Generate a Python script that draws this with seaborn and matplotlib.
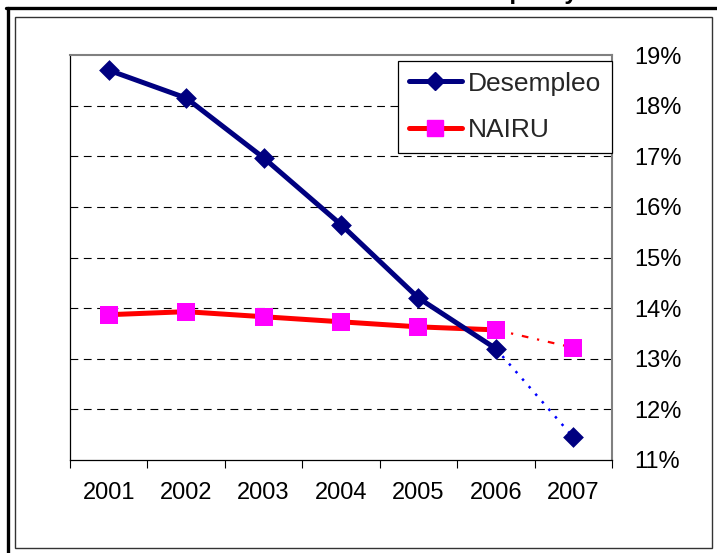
import matplotlib
matplotlib.use("Agg")
import matplotlib.pyplot as plt
import seaborn as sns
import pandas as pd
from matplotlib.lines import Line2D
from matplotlib.patches import Rectangle
from matplotlib.ticker import FixedLocator, FuncFormatter

# ---- data ----
years = ["2001", "2002", "2003", "2004", "2005", "2006", "2007"]
desempleo = [18.70, 18.15, 16.97, 15.65, 14.20, 13.20, 11.45]
nairu = [13.87, 13.93, 13.83, 13.73, 13.63, 13.57, 13.22]
y_ticks = [11, 12, 13, 14, 15, 16, 17, 18, 19]
title = "Evolución de la Tasa de Desempleo y NAIRU"

NAVY = "#000080"
BLUE = "#0000FF"
RED = "#FF0000"
MAGENTA = "#FF00FF"

sns.set_theme(style="white")
plt.rcParams["font.family"] = ["Liberation Sans", "DejaVu Sans"]

W, H = 717, 553
fig = plt.figure(figsize=(W / 100, H / 100), dpi=100)
fig.patch.set_facecolor("white")

ax = fig.add_axes([70 / W, 1 - 460 / H, 542 / W, 405 / H])

df = pd.DataFrame({"idx": range(len(years)), "year": years,
                   "Desempleo": desempleo, "NAIRU": nairu})
observed = df.iloc[:6]
forecast = df.iloc[5:]

# dashed horizontal gridlines
for t in y_ticks[1:-1]:
    ax.axhline(t, color="black", lw=0.8, ls=(0, (7, 5)), zorder=0.5)

# forecast segments (dotted)
sns.lineplot(data=forecast, x="idx", y="Desempleo", ax=ax, color=BLUE,
             lw=1.8, linestyle=(0, (1, 3)), zorder=2)
sns.lineplot(data=forecast, x="idx", y="NAIRU", ax=ax, color=RED,
             lw=1.6, linestyle=(0, (3, 4, 1, 4)), zorder=2)

# observed segments (solid)
sns.lineplot(data=observed, x="idx", y="NAIRU", ax=ax, color=RED,
             lw=3.6, zorder=3)
sns.lineplot(data=observed, x="idx", y="Desempleo", ax=ax, color=NAVY,
             lw=3.6, zorder=4)

# markers
sns.scatterplot(data=df, x="idx", y="NAIRU", ax=ax, marker="s", s=185,
                color=MAGENTA, linewidth=0, zorder=5)
sns.scatterplot(data=df, x="idx", y="Desempleo", ax=ax, marker="D", s=112,
                color=NAVY, linewidth=0, zorder=6)

ax.set_xlabel("")
ax.set_ylabel("")
ax.set_xlim(-0.5, len(years) - 0.5)
ax.set_ylim(y_ticks[0], y_ticks[-1])

# x axis: labels centred on categories, tick marks between them
ax.xaxis.set_major_locator(FixedLocator(list(range(len(years)))))
ax.set_xticklabels(years)
ax.xaxis.set_minor_locator(FixedLocator([i - 0.5 for i in range(len(years) + 1)]))
ax.tick_params(axis="x", which="major", length=0, pad=16, labelsize=17,
               colors="black")
ax.tick_params(axis="x", which="minor", length=6, width=0.8, direction="out",
               color="black", bottom=True)

# y axis on the right
ax.yaxis.tick_right()
ax.yaxis.set_major_locator(FixedLocator(y_ticks))
ax.yaxis.set_major_formatter(FuncFormatter(lambda v, p: f"{int(v)}%"))
ax.tick_params(axis="y", which="major", length=0, pad=16, labelsize=17,
               colors="black")

for side in ("left", "bottom"):
    ax.spines[side].set_color("black")
    ax.spines[side].set_linewidth(0.9)
for side in ("top", "right"):
    ax.spines[side].set_color("#808080")
    ax.spines[side].set_linewidth(1.5)

# legend
handles = [
    Line2D([], [], color=NAVY, lw=3.6, marker="D", ms=9, mfc=NAVY, mec=NAVY),
    Line2D([], [], color=RED, lw=3.6, marker="s", ms=11, mfc=MAGENTA, mec=MAGENTA),
]
leg = ax.legend(handles, ["Desempleo", "NAIRU"], loc="upper right",
                bbox_to_anchor=(1.0, (460 - 61) / 405), fontsize=19,
                frameon=True, fancybox=False, framealpha=1, edgecolor="black",
                handlelength=2.0, handletextpad=0.25, labelspacing=0.85,
                borderpad=0.4, borderaxespad=0)
leg.get_frame().set_linewidth(0.9)

# title (cut by the top edge)
fig.text(0.57, 1 + 0.5 / H, title, ha="center", va="baseline",
         fontsize=17, fontweight="bold", color="black")

# outer frames
fig.add_artist(Line2D([7.5 / W, 7.5 / W], [0, 1 - 7.5 / H],
                      transform=fig.transFigure, color="black", lw=2.4))
fig.add_artist(Line2D([6 / W, 1], [1 - 7.5 / H, 1 - 7.5 / H],
                      transform=fig.transFigure, color="black", lw=2.4))
fig.add_artist(Rectangle((15 / W, 1 - 548 / H), (712 - 15) / W, (548 - 17) / H,
                         transform=fig.transFigure, fill=False,
                         edgecolor="#333333", lw=1.0))

fig.savefig("out.png", dpi=100)
